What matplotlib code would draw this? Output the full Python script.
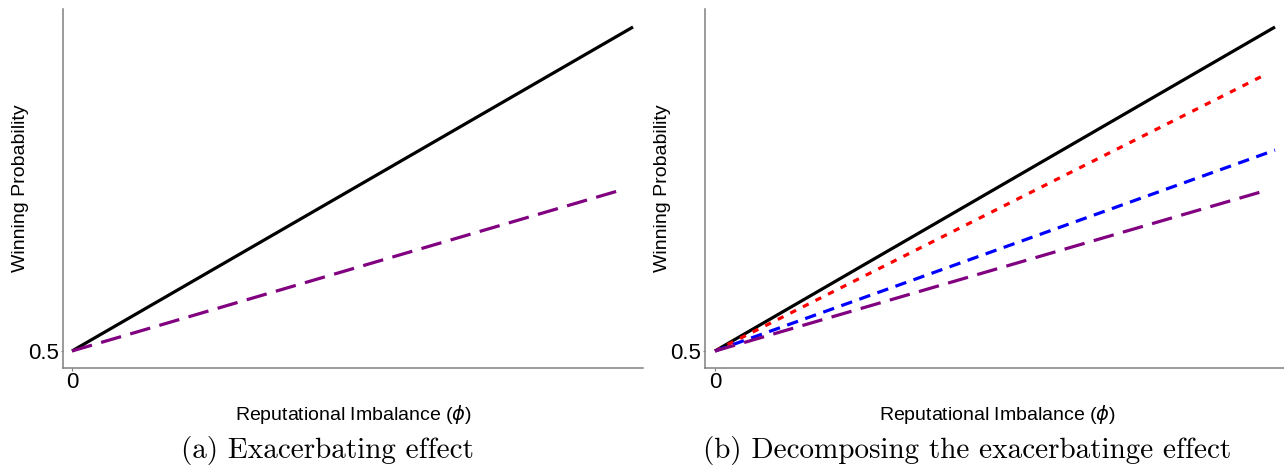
import matplotlib
matplotlib.use("Agg")
import matplotlib.pyplot as plt

plt.rcParams['font.family'] = ['Liberation Sans', 'DejaVu Sans']

# Data
phi_black = [0.0, 1.0]
win_black = [0.5, 0.9]

phi_purple_a = [0.0, 0.98]
win_purple_a = [0.5, 0.699]

phi_red = [0.0, 0.982]
win_red = [0.5, 0.841]
phi_blue = [0.0, 1.0]
win_blue = [0.5, 0.748]
phi_purple_b = [0.0, 0.978]
win_purple_b = [0.5, 0.697]

xticks = [0]
xticklabels = ["0"]
yticks = [0.5]
yticklabels = ["0.5"]

xlabel = r"Reputational Imbalance ($\phi$)"
ylabel = "Winning Probability"
captions = ["(a) Exacerbating effect", "(b) Decomposing the exacerbatinge effect"]

W, H = 1284, 465
fig = plt.figure(figsize=(W / 100, H / 100), dpi=100)

def px_axes(x0, x1, y0, y1):
    return fig.add_axes([x0 / W, (H - y1) / H, (x1 - x0) / W, (y1 - y0) / H])

ax1 = px_axes(63, 643, 9, 368)
ax2 = px_axes(705, 1290, 9, 368)

def style(ax, x0px, x1px, zero_px, scale):
    ax.set_xlim((x0px - zero_px) / scale, (x1px - zero_px) / scale)
    ax.set_ylim(0.5 - (368 - 351) / 810, 0.5 + (351 - 9) / 810)
    for s in ['top', 'right']:
        ax.spines[s].set_visible(False)
    for s in ['left', 'bottom']:
        ax.spines[s].set_color('#808080')
        ax.spines[s].set_linewidth(1.1)
    ax.set_xticks(xticks)
    ax.set_xticklabels(xticklabels)
    ax.set_yticks(yticks)
    ax.set_yticklabels(yticklabels)
    ax.tick_params(direction='out', length=1.8, width=0.8, color='#808080',
                   labelsize=16, pad=1.2)
    ax.set_xlabel(xlabel, fontsize=14, labelpad=7)
    ax.set_ylabel(ylabel, fontsize=14, labelpad=-1)

style(ax1, 63, 643, 72, 561)
style(ax2, 705, 1290, 715, 560)

lw = 2.3
ax1.plot(phi_black, win_black, color='black', lw=lw, solid_capstyle='butt')
ax1.plot(phi_purple_a, win_purple_a, color='#800080', lw=lw, dashes=(6.5, 3))

ax2.plot(phi_black, win_black, color='black', lw=lw, solid_capstyle='butt')
ax2.plot(phi_red, win_red, color='#FF0000', lw=lw, dashes=(2, 2.4))
ax2.plot(phi_blue, win_blue, color='#0000FF', lw=lw, dashes=(3.6, 2.4))
ax2.plot(phi_purple_b, win_purple_b, color='#800080', lw=lw, dashes=(6.5, 3))

fig.text(327 / W, 1 - 450 / H, captions[0], family='cmr10', fontsize=21,
         ha='center', va='center')
fig.text(967 / W, 1 - 450 / H, captions[1], family='cmr10', fontsize=21,
         ha='center', va='center')

fig.savefig("out.png", dpi=100)
